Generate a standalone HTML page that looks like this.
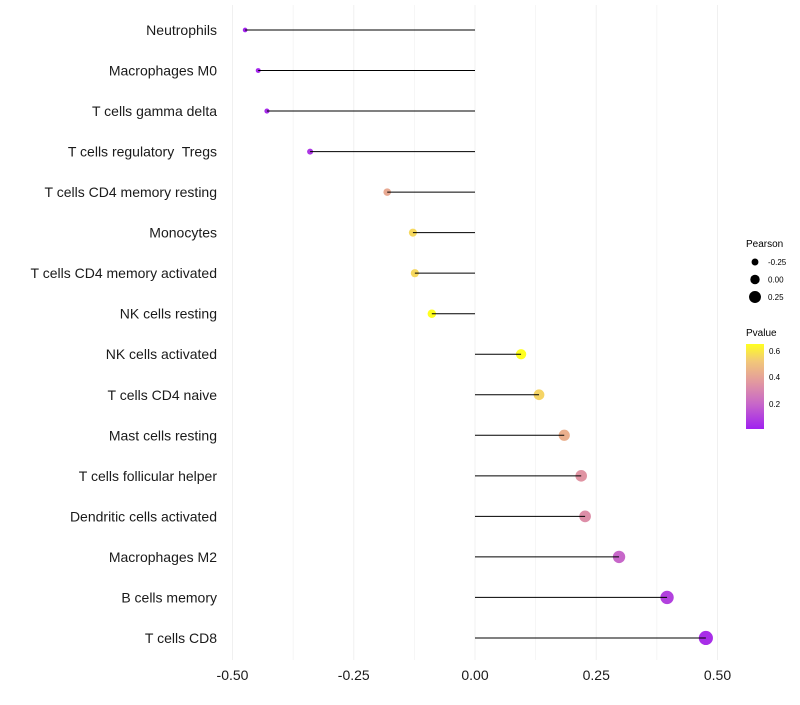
<!DOCTYPE html>
<html><head><meta charset="utf-8"><style>
body{margin:0;background:#fff;font-family:"Liberation Sans",sans-serif}
</style></head><body>
<svg id="chart" width="800" height="700" xmlns="http://www.w3.org/2000/svg">
<g id="grid"></g>
<g id="marks"></g>
<g id="ylabels"></g>
<g id="xlabels"></g>
<g>
<text x="746" y="247" font-size="10" fill="#000">Pearson</text>
<g id="sizeleg"></g>
</g>
<g>
<text x="746" y="336" font-size="10" fill="#000">Pvalue</text>
<defs><linearGradient id="pg" x1="0" y1="1" x2="0" y2="0">
<stop offset="0" stop-color="#a020f0"/><stop offset="0.3" stop-color="#c868c8"/><stop offset="0.55" stop-color="#e298a0"/><stop offset="0.8" stop-color="#f2c878"/><stop offset="1" stop-color="#ffff20"/>
</linearGradient></defs>
<rect x="746" y="344" width="18" height="85" fill="url(#pg)"/>
<text x="769" y="354" font-size="8">0.6</text>
<text x="769" y="380" font-size="8">0.4</text>
<text x="769" y="407" font-size="8">0.2</text>
</g>
</svg>
<script>
const categories=["Neutrophils","Macrophages M0","T cells gamma delta","T cells regulatory  Tregs","T cells CD4 memory resting","Monocytes","T cells CD4 memory activated","NK cells resting","NK cells activated","T cells CD4 naive","Mast cells resting","T cells follicular helper","Dendritic cells activated","Macrophages M2","B cells memory","T cells CD8"];
const pearson=[-0.474,-0.447,-0.429,-0.340,-0.181,-0.128,-0.124,-0.089,0.095,0.132,0.184,0.219,0.227,0.297,0.396,0.476];
const pvalue=[0.02,0.03,0.04,0.07,0.42,0.56,0.56,0.65,0.65,0.55,0.44,0.35,0.33,0.2,0.1,0.05];
const xticks=[-0.5,-0.25,0,0.25,0.5];
const xtickLabels=["-0.50","-0.25","0.00","0.25","0.50"];
const sizeLegend=[-0.25,0,0.25];
const NS="http://www.w3.org/2000/svg";
const X=v=>475+v*485;
const Y=i=>30+i*40.53;
const R=p=>4.7+5*p;
const stops=[[0,[160,32,240]],[0.3,[200,104,200]],[0.55,[226,152,160]],[0.8,[242,200,120]],[1,[255,255,32]]];
function col(p){let t=Math.max(0,Math.min(1,(p-0.012)/(0.65-0.012)));for(let k=1;k<stops.length;k++){if(t<=stops[k][0]){const a=stops[k-1],b=stops[k];const f=(t-a[0])/(b[0]-a[0]);const c=a[1].map((v,j)=>Math.round(v+(b[1][j]-v)*f));return `rgb(${c})`;}}return "rgb(255,255,32)";}
function el(tag,attrs,parent){const e=document.createElementNS(NS,tag);for(const k in attrs)e.setAttribute(k,attrs[k]);parent.appendChild(e);return e;}
const grid=document.getElementById('grid'),marks=document.getElementById('marks'),yl=document.getElementById('ylabels'),xl=document.getElementById('xlabels');
for(let v=-0.5;v<=0.5001;v+=0.125){const g=el('line',{x1:X(v),x2:X(v),y1:5,y2:660,stroke:'#f0f0f0','stroke-width':Math.abs((v*4)%1)<0.01?1:0.6},grid);

}
categories.forEach((c,i)=>{
const ci=el('circle',{cx:X(pearson[i]),cy:Y(i),r:R(pearson[i]),fill:col(pvalue[i])},marks);


const ln=el('line',{x1:X(0),x2:X(pearson[i]),y1:Y(i),y2:Y(i),stroke:'#000','stroke-width':1},marks);


const t=el('text',{x:217,y:Y(i)+5,'text-anchor':'end','font-size':14,fill:'#1a1a1a','xml:space':'preserve'},yl);t.textContent=c;
t.style.whiteSpace='pre';


});
xticks.forEach((v,i)=>{const t=el('text',{x:X(v),y:680,'text-anchor':'middle','font-size':14,fill:'#1a1a1a'},xl);t.textContent=xtickLabels[i];

});
const sl=document.getElementById('sizeleg');
sizeLegend.forEach((v,i)=>{const y=262+i*17.5;
const c=el('circle',{cx:755,cy:y,r:R(v),fill:'#000'},sl);


const t=el('text',{x:768,y:y+3,'font-size':8},sl);t.textContent=v.toFixed(2);

});
</script>
</body></html>
